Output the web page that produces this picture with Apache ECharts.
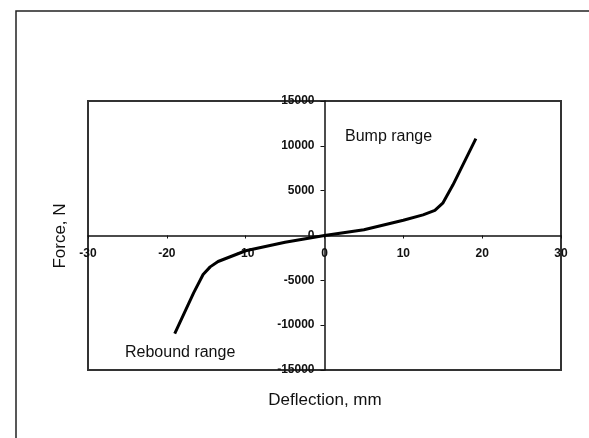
<!DOCTYPE html>
<html><head><meta charset="utf-8">
<script src="https://cdn.jsdelivr.net/npm/echarts@6/dist/echarts.min.js"></script>
<style>html,body{margin:0;padding:0;background:#fff}#c{width:589px;height:438px}</style>
</head><body><div id="c"></div>
<script>
var deflection = [-19.0, -16.6, -15.4, -14.5, -13.5, -10, -5, 0, 5, 10, 12.5, 14, 15, 16.3, 19.2];
var force = [-10950, -6400, -4350, -3500, -2900, -1700, -750, 0, 650, 1700, 2300, 2800, 3600, 5650, 10800];
var xTicks = [-30, -20, -10, 0, 10, 20, 30];
var yTicks = [-15000, -10000, -5000, 0, 5000, 10000, 15000];

var data = deflection.map(function (x, i) { return [x, force[i]]; });
var chart = echarts.init(document.getElementById('c'), null, {renderer: 'canvas'});
var font = 'Arial, "Liberation Sans", sans-serif';
var plain = function (v) { return String(v); };
chart.setOption({
  animation: false,
  backgroundColor: '#fff',
  grid: {left: 88, right: 28, top: 101, bottom: 68, show: true, borderColor: '#333', borderWidth: 2, backgroundColor: 'transparent'},
  xAxis: {
    type: 'value', min: xTicks[0], max: xTicks[xTicks.length - 1], interval: 10, position: 'bottom',
    axisLine: {onZero: false, lineStyle: {color: '#111', width: 1.5}},
    axisTick: {show: true, inside: false, length: 3, lineStyle: {color: '#111'}},
    axisLabel: {color: '#111', fontFamily: font, fontSize: 12, fontWeight: 'bold', margin: 12, formatter: plain},
    splitLine: {show: false}
  },
  yAxis: {
    type: 'value', min: yTicks[0], max: yTicks[yTicks.length - 1], interval: 5000, position: 'left',
    axisLine: {onZero: false, lineStyle: {color: '#111', width: 1.5}},
    axisTick: {show: true, length: 4, lineStyle: {color: '#111'}},
    axisLabel: {color: '#111', fontFamily: font, fontSize: 12, fontWeight: 'bold', margin: 10, formatter: plain},
    splitLine: {show: false}
  },
  graphic: [
    {type: 'polyline', shape: {points: [[16, 438], [16, 11], [589, 11]]}, style: {stroke: '#222', lineWidth: 1.5, fill: null}},
    {type: 'text', x: 345, y: 137, style: {text: 'Bump range', font: '16px ' + font, fill: '#111', textVerticalAlign: 'middle'}},
    {type: 'text', x: 125, y: 353, style: {text: 'Rebound range', font: '16px ' + font, fill: '#111', textVerticalAlign: 'middle'}},
    {type: 'text', x: 325, y: 400, style: {text: 'Deflection, mm', font: '17px ' + font, fill: '#111', textAlign: 'center', textVerticalAlign: 'middle'}},
    {type: 'text', x: 60, y: 236, rotation: Math.PI / 2, style: {text: 'Force, N', font: '17px ' + font, fill: '#111', textAlign: 'center', textVerticalAlign: 'middle'}}
  ],
  series: [{
    type: 'line', data: data, showSymbol: false, symbol: 'none', smooth: false,
    lineStyle: {color: '#000', width: 3}
  }]
});
// move axes (with their labels) to cross at the origin
var origin = chart.convertToPixel({gridIndex: 0}, [0, 0]);
var corner = chart.convertToPixel({gridIndex: 0}, [xTicks[0], yTicks[0]]);
chart.setOption({
  xAxis: {offset: -(corner[1] - origin[1])},
  yAxis: {offset: -(origin[0] - corner[0])}
});
</script></body></html>
